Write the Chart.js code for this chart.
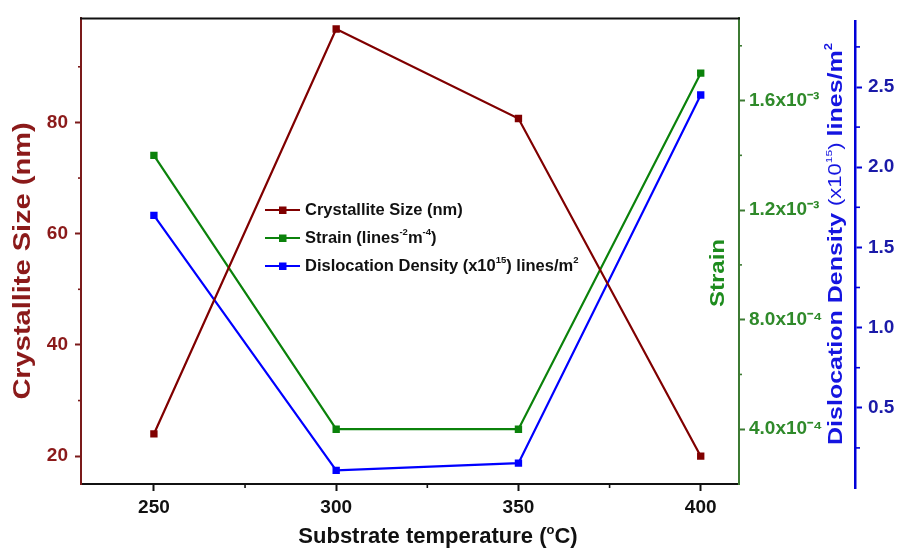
<!DOCTYPE html>
<html>
<head>
<meta charset="utf-8">
<script src="https://cdn.jsdelivr.net/npm/chart.js@4.4.1/dist/chart.umd.min.js"></script>
<style>
  html, body { margin: 0; padding: 0; background: #ffffff; }
  #wrap { width: 899px; height: 553px; }
</style>
</head>
<body>
<div id="wrap"><canvas id="chart" width="899" height="553"></canvas></div>
<script>
// ---------------- data ----------------
const temperatures = [250, 300, 350, 400];
const crystalliteSize = [24.0, 96.8, 80.7, 20.0];
const strain = [1.40e-3, 4.0e-4, 4.0e-4, 1.70e-3];
const dislocationDensity = [1.70, 0.11, 0.155, 2.45];

// ---------------- ticks ----------------
const xMajorTicks = [250, 300, 350, 400];
const xTickLabels = ['250', '300', '350', '400'];
const xMinorTicks = [275, 325, 375];

const sizeMajorTicks = [20, 40, 60, 80];
const sizeTickLabels = ['20', '40', '60', '80'];
const sizeMinorTicks = [30, 50, 70, 90];

const strainMajorTicks = [4e-4, 8e-4, 1.2e-3, 1.6e-3];
const strainTickLabels = ['4.0x10⁻⁴', '8.0x10⁻⁴', '1.2x10⁻³', '1.6x10⁻³'];
const strainMinorTicks = [6e-4, 1.0e-3, 1.4e-3, 1.8e-3];

const densityMajorTicks = [0.5, 1.0, 1.5, 2.0, 2.5];
const densityTickLabels = ['0.5', '1.0', '1.5', '2.0', '2.5'];
const densityMinorTicks = [0.25, 0.75, 1.25, 1.75, 2.25, 2.75];

// ---------------- style ----------------
const FONT = '"Liberation Sans", Arial, Helvetica, sans-serif';
const sizeColor = '#800000';
const strainColor = '#0b820b';
const densityColor = '#0000ff';

function setTicks(major, minor) {
  const values = major.concat(minor).sort((a, b) => a - b);
  return (scale) => { scale.ticks = values.map(v => ({ value: v })); };
}
function labelFor(major, labels) {
  return (v) => {
    const i = major.findIndex(m => Math.abs(m - v) < 1e-9);
    return i < 0 ? '' : labels[i];
  };
}
function majorTickColor(major, color) {
  return (ctx) => {
    const v = ctx.tick ? ctx.tick.value : null;
    return (v !== null && major.some(m => Math.abs(m - v) < 1e-9)) ? color : 'rgba(0,0,0,0)';
  };
}

function pairs(xs, ys) { return xs.map((x, i) => ({ x: x, y: ys[i] })); }

// rich text helper (superscripts)
function drawRich(ctx, segs, x, y, opts) {
  ctx.save();
  ctx.translate(x, y);
  if (opts.squeezeX) ctx.scale(opts.squeezeX, 1);
  if (opts.rotation) ctx.rotate(opts.rotation);
  let total = 0;
  segs.forEach(s => { ctx.font = s.font; s.w = ctx.measureText(s.t).width; total += s.w; });
  let cx = opts.align === 'left' ? 0 : -total / 2;
  ctx.textBaseline = 'middle';
  ctx.textAlign = 'left';
  segs.forEach(s => {
    ctx.font = s.font;
    ctx.fillStyle = s.color || opts.color;
    ctx.fillText(s.t, cx, s.dy || 0);
    cx += s.w;
  });
  ctx.restore();
}
const f = (size, weight) => (weight || 'bold') + ' ' + size + 'px ' + FONT;

// short minor tick marks, placed through each scale
const minorTickSpecs = [
  { id: 'x', values: xMinorTicks, len: 4, color: '#111' },
  { id: 'ySize', values: sizeMinorTicks, len: 3, color: '#7b1a1a' },
  { id: 'yStrain', values: strainMinorTicks, len: 3, color: '#3c7a32' },
  { id: 'yDensity', values: densityMinorTicks, len: 5, color: '#0000d8' }
];

const decorations = {
  id: 'decorations',
  afterLayout(chart) {
    const s = chart.scales.yDensity;
    const a = chart.chartArea;
    s.top = a.top + 3;
    s.bottom = a.bottom + 4;
    s.height = s.bottom - s.top;
    s.configure();
  },
  afterDraw(chart) {
    const ctx = chart.ctx;
    const a = chart.chartArea;
    // top frame line
    ctx.save();
    ctx.strokeStyle = '#111';
    ctx.lineWidth = 2;
    ctx.beginPath();
    ctx.moveTo(a.left - 1, a.top);
    ctx.lineTo(a.right + 1, a.top);
    ctx.stroke();

    // minor ticks
    minorTickSpecs.forEach(spec => {
      const s = chart.scales[spec.id];
      ctx.strokeStyle = spec.color;
      ctx.lineWidth = 1.6;
      spec.values.forEach(v => {
        const p = s.getPixelForValue(v);
        ctx.beginPath();
        if (s.isHorizontal()) {
          ctx.moveTo(p, s.top); ctx.lineTo(p, s.top + spec.len);
        } else if (s.position === 'left') {
          ctx.moveTo(s.right, p); ctx.lineTo(s.right - spec.len, p);
        } else {
          ctx.moveTo(s.left, p); ctx.lineTo(s.left + spec.len, p);
        }
        ctx.stroke();
      });
    });
    ctx.restore();

    // axis titles
    drawRich(ctx, [{ t: 'Crystallite Size (nm)', font: f(29) }], 24, 261,
      { rotation: -Math.PI / 2, squeezeX: 0.8, color: '#8b1a1a' });
    drawRich(ctx, [{ t: 'Strain', font: f(24) }], 719, 273,
      { rotation: -Math.PI / 2, squeezeX: 0.82, color: '#1e8c1e' });
    drawRich(ctx, [
      { t: 'Dislocation Density ', font: f(25) },
      { t: '(x10', font: f(22, 'normal') },
      { t: '15', font: f(12, 'normal'), dy: -8 },
      { t: ') ', font: f(22, 'normal') },
      { t: 'lines/m', font: f(25) },
      { t: '2', font: f(13), dy: -9 }
    ], 836, 244, { rotation: -Math.PI / 2, squeezeX: 0.8, color: '#1515e0' });
    drawRich(ctx, [
      { t: 'Substrate temperature (', font: f(22) },
      { t: 'o', font: f(13), dy: -7 },
      { t: 'C)', font: f(22) }
    ], 438, 537, { color: '#111' });

    // legend
    const legendRows = [
      { color: sizeColor, segs: [{ t: 'Crystallite Size (nm)', font: f(16.5) }] },
      { color: strainColor, segs: [
        { t: 'Strain (lines', font: f(16.5) },
        { t: '-2', font: f(9.5), dy: -6 },
        { t: 'm', font: f(16.5) },
        { t: '-4', font: f(9.5), dy: -6 },
        { t: ')', font: f(16.5) }] },
      { color: densityColor, segs: [
        { t: 'Dislocation Density (x10', font: f(16.5) },
        { t: '15', font: f(9.5), dy: -6 },
        { t: ') lines/m', font: f(16.5) },
        { t: '2', font: f(9.5), dy: -6 }] }
    ];
    const lx = 265, ly0 = 210, dy = 28;
    legendRows.forEach((row, i) => {
      const y = ly0 + i * dy;
      ctx.save();
      ctx.strokeStyle = row.color;
      ctx.lineWidth = 2;
      ctx.beginPath();
      ctx.moveTo(lx, y);
      ctx.lineTo(lx + 35, y);
      ctx.stroke();
      ctx.fillStyle = row.color;
      ctx.fillRect(lx + 14, y - 3.5, 7.5, 7.5);
      ctx.restore();
      drawRich(ctx, row.segs, lx + 40, y, { align: 'left', color: '#111' });
    });
  }
};

const commonTickFont = { family: FONT, size: 19, weight: 'bold' };

new Chart(document.getElementById('chart'), {
  type: 'line',
  data: {
    datasets: [
      {
        label: 'Crystallite Size (nm)',
        data: pairs(temperatures, crystalliteSize),
        yAxisID: 'ySize',
        borderColor: sizeColor, backgroundColor: sizeColor,
        borderWidth: 2.2, pointStyle: 'rect', pointRadius: 5.2, pointBorderWidth: 0,
        tension: 0
      },
      {
        label: 'Strain (lines⁻²m⁻⁴)',
        data: pairs(temperatures, strain),
        yAxisID: 'yStrain',
        borderColor: strainColor, backgroundColor: strainColor,
        borderWidth: 2.2, pointStyle: 'rect', pointRadius: 5.2, pointBorderWidth: 0,
        tension: 0
      },
      {
        label: 'Dislocation Density (x10¹⁵) lines/m²',
        data: pairs(temperatures, dislocationDensity),
        yAxisID: 'yDensity',
        borderColor: densityColor, backgroundColor: densityColor,
        borderWidth: 2.2, pointStyle: 'rect', pointRadius: 5.2, pointBorderWidth: 0,
        tension: 0
      }
    ]
  },
  options: {
    responsive: false,
    animation: false,
    devicePixelRatio: 1,
    layout: { padding: { top: 12, left: 0, right: 0, bottom: 0 } },
    plugins: { legend: { display: false }, tooltip: { enabled: false } },
    scales: {
      x: {
        type: 'linear', position: 'bottom', min: 230, max: 410.5,
        afterBuildTicks: setTicks(xMajorTicks, xMinorTicks),
        afterFit: (s) => { s.height = 69; },
        ticks: { autoSkip: false, maxRotation: 0, color: '#111', font: commonTickFont, padding: 5,
                 callback: labelFor(xMajorTicks, xTickLabels) },
        grid: { drawOnChartArea: false, drawTicks: true, tickLength: 7, tickWidth: 2,
                tickColor: majorTickColor(xMajorTicks, '#111') },
        border: { color: '#111', width: 2 }
      },
      ySize: {
        type: 'linear', position: 'left', min: 15, max: 98.7,
        afterBuildTicks: setTicks(sizeMajorTicks, sizeMinorTicks),
        afterFit: (s) => { s.width = 81; },
        ticks: { autoSkip: false, color: '#8b1a1a', font: commonTickFont, padding: 7,
                 callback: labelFor(sizeMajorTicks, sizeTickLabels) },
        grid: { drawOnChartArea: false, drawTicks: true, tickLength: 6, tickWidth: 2,
                tickColor: majorTickColor(sizeMajorTicks, '#7b1a1a') },
        border: { color: '#7b1a1a', width: 2 }
      },
      yStrain: {
        type: 'linear', position: 'right', min: 2e-4, max: 1.9e-3,
        afterBuildTicks: setTicks(strainMajorTicks, strainMinorTicks),
        afterFit: (s) => { s.width = 116; },
        ticks: { autoSkip: false, color: '#2f8a2a', font: commonTickFont, padding: 4,
                 callback: labelFor(strainMajorTicks, strainTickLabels) },
        grid: { drawOnChartArea: false, drawTicks: true, tickLength: 6, tickWidth: 2,
                tickColor: majorTickColor(strainMajorTicks, '#3c7a32') },
        border: { color: '#3c7a32', width: 2 }
      },
      yDensity: {
        type: 'linear', position: 'right', min: 0, max: 2.909,
        afterBuildTicks: setTicks(densityMajorTicks, densityMinorTicks),
        afterFit: (s) => { s.width = 44; },
        ticks: { autoSkip: false, color: '#1a1aa8', font: commonTickFont, padding: 6,
                 callback: labelFor(densityMajorTicks, densityTickLabels) },
        grid: { drawOnChartArea: false, drawTicks: true, tickLength: 7, tickWidth: 2,
                tickColor: majorTickColor(densityMajorTicks, '#0000d8') },
        border: { color: '#0000d8', width: 2.5 }
      }
    }
  },
  plugins: [decorations]
});
</script>
</body>
</html>
